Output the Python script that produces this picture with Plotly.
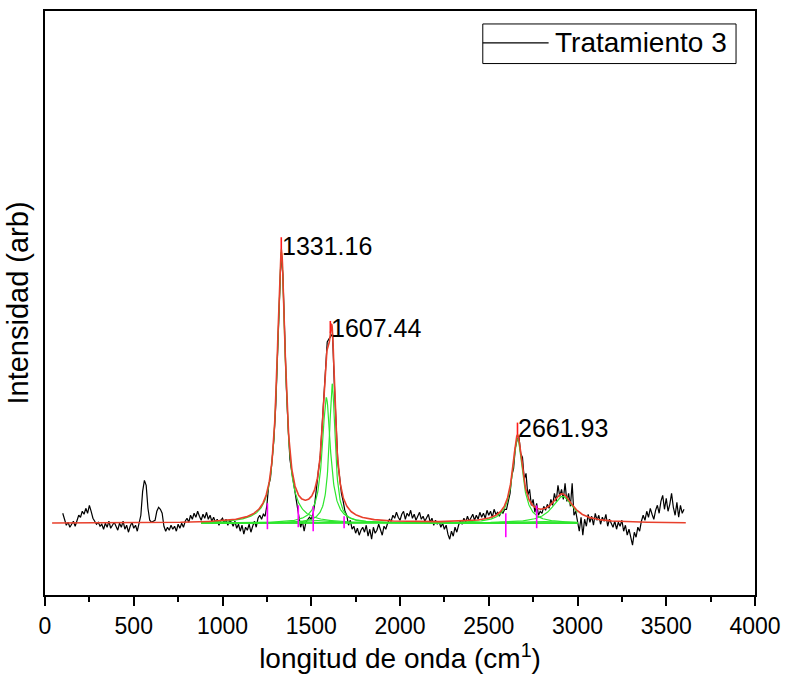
import plotly.graph_objects as go

# ---------------- data ----------------
wn_start, wn_step = 100, 10          # measured spectrum sampling (cm^-1)
intensity = [
    10, 3, -2, 1, -4, -1, 2, -3, 4, 8,
    6, 12, 9, 15, 10, 18, 12, 5, 2, -1,
    1, -3, -1, -6, 0, -4, 2, -5, -2, 1,
    -3, -7, 0, -4, 2, -6, -2, -9, -3, 1,
    -5, -2, -8, 0, 8, 32, 43, 38, 15, 3,
    1, 2, 3, 12, 16, 14, 10, -3, -8, -4,
    -7, -2, -6, -3, -8, -1, -5, 0, -4, 2,
    5, 1, 8, 4, 10, 6, 12, 7, 3, 9,
    5, 11, 4, 8, 2, 6, 1, 4, -2, 3,
    5, 0, 4, -2, 3, 1, -3, 2, -5, -1,
    -8, -2, -11, -4, -7, -1, -9, -3, 2, -4,
    5, 8, 4, 9, 7, 18, 38, 45, 66, 85,
    118, 170, 238, 270, 250, 184, 135, 95, 64, 52,
    40, 30, 15, 5, -4, 2, -8, 1, 3, 6,
    4, 9, 20, 38, 52, 65, 95, 128, 160, 182,
    185, 188, 190, 140, 96, 60, 46, 30, 22, 12,
    8, -2, 3, -6, -3, -10, -5, -12, -7, -4,
    -9, -2, -13, -6, -16, -4, -10, -7, -1, -8,
    -12, -3, -6, 0, 4, 2, 8, 5, 11, 6,
    3, 9, 12, 4, 10, 7, 13, 5, 9, 3,
    8, 11, 4, 7, 2, 6, 9, 1, 5, -2,
    3, -1, 2, -4, 0, -6, -2, -11, -16, -8,
    -13, -4, -9, -2, 3, -1, 5, 1, 7, 2,
    6, 9, 3, 8, 4, 11, 6, 10, 5, 13,
    8, 12, 6, 14, 9, 11, 7, 12, 10, 14,
    14, 24, 30, 48, 55, 76, 84, 87, 70, 66,
    44, 50, 28, 34, 18, 24, 11, 20, 8, 12,
    10, 17, 13, 19, 15, 24, 18, 30, 22, 38,
    27, 34, 24, 40, 22, 30, 17, 40, 8, 12,
    3, -8, 6, -12, 4, -3, 9, 1, 7, -2,
    10, 3, 8, -1, 6, 2, 9, -3, 4, 0,
    -4, 2, -6, 1, -3, 3, -8, -2, -12, -6,
    -16, -22, -9, -14, -4, -8, 2, 8, 3, 12,
    6, 15, 9, 4, 13, 18, 10, 22, 28, 14,
    25, 12, 19, 30, 16, 8, 21, 6, 18, 10,
    14,
]
wavenumber = [wn_start + i * wn_step for i in range(len(intensity))]
series_name = "Tratamiento 3"

# Lorentzian fit components (center, height, half width)
peak_center = [1331.16, 1585, 1618, 1500, 2661.93, 2915, 2750]
peak_height = [272, 126, 140, 3, 85, 27, 2]
peak_hwhm = [28, 28, 20, 100, 34, 70, 150]

fit_range = [40, 3610]
component_range = [880, 3000]

# labelled peaks
peak_labels = ["1331.16", "1607.44", "2661.93"]
label_x = [1331.16, 1607.44, 2661.93]
label_y = [278, 196, 96]
marker_top = [287, 203, 101]

# integration-limit markers (magenta)
limit_x = [1253, 1427, 1511, 1685, 2596, 2770]
limit_lo = [-6, -4, -8, -5, -14, -5]
limit_hi = [20, 18, 17, 7, 10, 18]

x_ticks = [0, 500, 1000, 1500, 2000, 2500, 3000, 3500, 4000]

FONT = "Liberation Sans, Arial, sans-serif"


def lorentz(x, c, a, w):
    return a / (1.0 + ((x - c) / w) ** 2)


def fit_total(x):
    return sum(lorentz(x, c, a, w) for c, a, w in zip(peak_center, peak_height, peak_hwhm))


fit_x = list(range(fit_range[0], fit_range[1] + 1, 2))
fit_y = [fit_total(v) for v in fit_x]
comp_x = list(range(component_range[0], component_range[1] + 1, 2))

fig = go.Figure()

fig.add_trace(go.Scatter(x=wavenumber, y=intensity, mode="lines",
                         line=dict(color="black", width=1.2),
                         name=series_name, showlegend=False))

for c, a, w in zip(peak_center, peak_height, peak_hwhm):
    fig.add_trace(go.Scatter(x=comp_x, y=[lorentz(v, c, a, w) for v in comp_x],
                             mode="lines", line=dict(color="#2ee62e", width=1.2),
                             showlegend=False, hoverinfo="skip"))

fig.add_trace(go.Scatter(x=fit_x, y=fit_y, mode="lines",
                         line=dict(color="#e8402c", width=1.6),
                         showlegend=False, hoverinfo="skip"))

mx, my = [], []
for px, top in zip(label_x, marker_top):
    mx += [px, px, None]
    my += [fit_total(px), top, None]
fig.add_trace(go.Scatter(x=mx, y=my, mode="lines",
                         line=dict(color="#ff1a1a", width=1.6),
                         showlegend=False, hoverinfo="skip"))

lx, ly = [], []
for px, lo, hi in zip(limit_x, limit_lo, limit_hi):
    lx += [px, px, None]
    ly += [lo, hi, None]
fig.add_trace(go.Scatter(x=lx, y=ly, mode="lines",
                         line=dict(color="#ff00ff", width=1.6),
                         showlegend=False, hoverinfo="skip"))

for t, px, py in zip(peak_labels, label_x, label_y):
    fig.add_annotation(x=px, y=py, text=t, showarrow=False,
                       xanchor="left", yanchor="middle", xshift=-1,
                       font=dict(size=25, color="black", family=FONT))

# legend box (drawn in plot-area paper coordinates)
leg_box = dict(x0=0.6166, x1=0.9733, y0=0.910, y1=0.9778)
leg_line_x = [0.6166, 0.7093]
leg_y = 0.9454
fig.add_shape(type="rect", xref="paper", yref="paper", **leg_box,
              line=dict(color="black", width=1), fillcolor="white", layer="above")
fig.add_shape(type="line", xref="paper", yref="paper",
              x0=leg_line_x[0], x1=leg_line_x[1], y0=leg_y, y1=leg_y,
              line=dict(color="black", width=1.2), layer="above")
fig.add_annotation(xref="paper", yref="paper", x=0.7150, y=leg_y, text=series_name,
                   showarrow=False, xanchor="left", yanchor="middle",
                   font=dict(size=28, color="black", family=FONT))

fig.update_layout(
    width=790, height=686,
    margin=dict(l=45, r=32, t=9, b=91),
    paper_bgcolor="white", plot_bgcolor="white",
    font=dict(family=FONT, color="black"),
    showlegend=False,
)

fig.update_xaxes(
    range=[0, 4000], tickvals=x_ticks, ticktext=[str(v) for v in x_ticks],
    ticks="outside", ticklen=9, tickwidth=2, tickcolor="black",
    minor=dict(dtick=250, ticks="outside", ticklen=5, tickwidth=2, tickcolor="black"),
    showline=True, linecolor="black", linewidth=2, mirror=True,
    showgrid=False, zeroline=False,
    tickfont=dict(size=23, family=FONT),
    title=dict(text="longitud de onda (cm<sup>1</sup>)", font=dict(size=28), standoff=8),
)
fig.update_yaxes(
    range=[-72, 514], showticklabels=False, ticks="",
    showline=True, linecolor="black", linewidth=2, mirror=True,
    showgrid=False, zeroline=False,
    title=dict(text="Intensidad (arb)", font=dict(size=29), standoff=6),
)

fig.write_html("out.html")
